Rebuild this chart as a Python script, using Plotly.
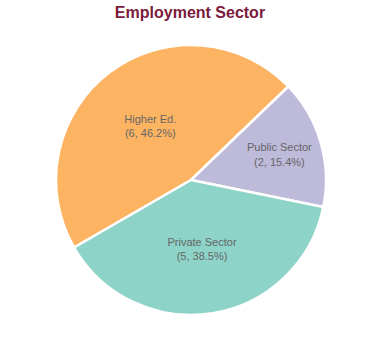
import plotly.graph_objects as go

labels = ["Higher Ed.", "Public Sector", "Private Sector"]
values = [6, 2, 5]
colors = ["#fdb462", "#bebada", "#8dd3c7"]

total = sum(values)
texts = [f"{l}<br>({v}, {v / total * 100:.1f}%)" for l, v in zip(labels, values)]

fig = go.Figure(go.Pie(
    labels=labels,
    values=values,
    text=texts,
    textinfo="text",
    textposition="inside",
    insidetextorientation="horizontal",
    textfont=dict(family="Liberation Sans, Arial, sans-serif", size=11, color="#666666"),
    marker=dict(colors=colors, line=dict(color="white", width=2.5)),
    sort=False,
    direction="clockwise",
    rotation=-120,
    hoverinfo="label+value+percent",
))

fig.update_layout(
    width=380,
    height=360,
    margin=dict(l=56, r=54, t=45, b=45),
    title=dict(text="<b>Employment Sector</b>", x=0.5, xanchor="center", y=0.98, yanchor="top",
               font=dict(family="Liberation Sans, Arial, sans-serif", size=16, color="#7b1a3c")),
    showlegend=False,
    paper_bgcolor="white",
    plot_bgcolor="white",
)

fig.write_html("out.html", config={"displayModeBar": False},
               post_script="document.body.style.margin='0';document.body.style.overflow='hidden';")
